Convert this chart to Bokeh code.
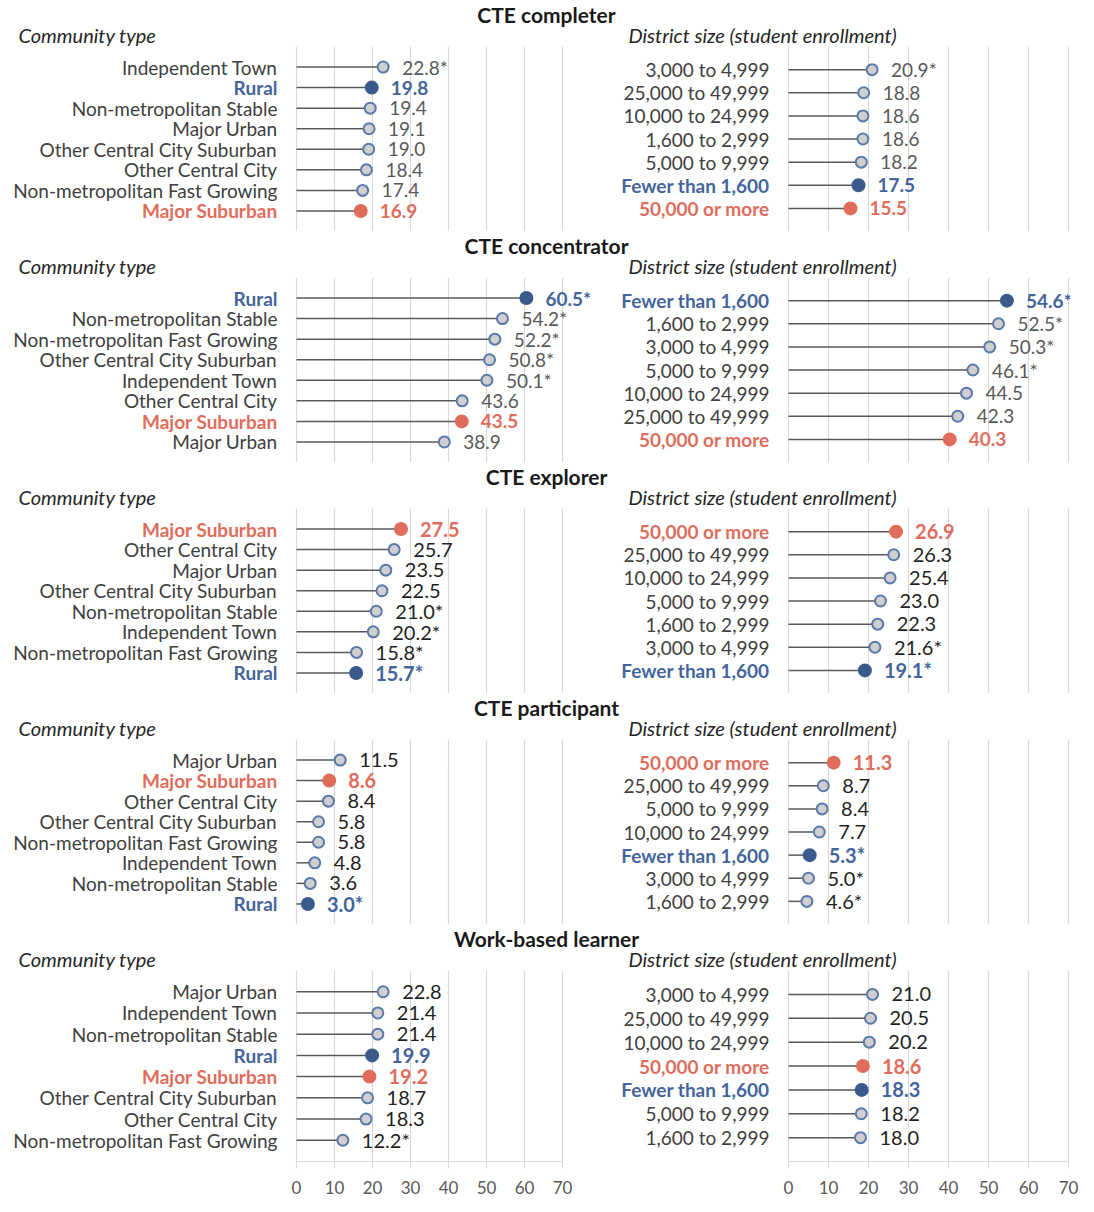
from bokeh.plotting import figure
from bokeh.models import ColumnDataSource, FactorRange, Range1d, Grid, FixedTicker, LinearAxis
from bokeh.layouts import column, row
from bokeh.embed import file_html
from bokeh.resources import INLINE
from bokeh.core.properties import value

# ---------------- data ----------------
panel_titles = ["CTE completer", "CTE concentrator", "CTE explorer", "CTE participant", "Work-based learner"]
left_subtitle = "Community type"
right_subtitle = "District size (student enrollment)"

completer_comm_cats = ["Independent Town", "Rural", "Non-metropolitan Stable", "Major Urban",
                       "Other Central City Suburban", "Other Central City", "Non-metropolitan Fast Growing", "Major Suburban"]
completer_comm_vals = [22.8, 19.8, 19.4, 19.1, 19.0, 18.4, 17.4, 16.9]
completer_comm_sig = [1, 0, 0, 0, 0, 0, 0, 0]
completer_size_cats = ["3,000 to 4,999", "25,000 to 49,999", "10,000 to 24,999", "1,600 to 2,999",
                       "5,000 to 9,999", "Fewer than 1,600", "50,000 or more"]
completer_size_vals = [20.9, 18.8, 18.6, 18.6, 18.2, 17.5, 15.5]
completer_size_sig = [1, 0, 0, 0, 0, 0, 0]

concentrator_comm_cats = ["Rural", "Non-metropolitan Stable", "Non-metropolitan Fast Growing", "Other Central City Suburban",
                          "Independent Town", "Other Central City", "Major Suburban", "Major Urban"]
concentrator_comm_vals = [60.5, 54.2, 52.2, 50.8, 50.1, 43.6, 43.5, 38.9]
concentrator_comm_sig = [1, 1, 1, 1, 1, 0, 0, 0]
concentrator_size_cats = ["Fewer than 1,600", "1,600 to 2,999", "3,000 to 4,999", "5,000 to 9,999",
                          "10,000 to 24,999", "25,000 to 49,999", "50,000 or more"]
concentrator_size_vals = [54.6, 52.5, 50.3, 46.1, 44.5, 42.3, 40.3]
concentrator_size_sig = [1, 1, 1, 1, 0, 0, 0]

explorer_comm_cats = ["Major Suburban", "Other Central City", "Major Urban", "Other Central City Suburban",
                      "Non-metropolitan Stable", "Independent Town", "Non-metropolitan Fast Growing", "Rural"]
explorer_comm_vals = [27.5, 25.7, 23.5, 22.5, 21.0, 20.2, 15.8, 15.7]
explorer_comm_sig = [0, 0, 0, 0, 1, 1, 1, 1]
explorer_size_cats = ["50,000 or more", "25,000 to 49,999", "10,000 to 24,999", "5,000 to 9,999",
                      "1,600 to 2,999", "3,000 to 4,999", "Fewer than 1,600"]
explorer_size_vals = [26.9, 26.3, 25.4, 23.0, 22.3, 21.6, 19.1]
explorer_size_sig = [0, 0, 0, 0, 0, 1, 1]

participant_comm_cats = ["Major Urban", "Major Suburban", "Other Central City", "Other Central City Suburban",
                         "Non-metropolitan Fast Growing", "Independent Town", "Non-metropolitan Stable", "Rural"]
participant_comm_vals = [11.5, 8.6, 8.4, 5.8, 5.8, 4.8, 3.6, 3.0]
participant_comm_sig = [0, 0, 0, 0, 0, 0, 0, 1]
participant_size_cats = ["50,000 or more", "25,000 to 49,999", "5,000 to 9,999", "10,000 to 24,999",
                         "Fewer than 1,600", "3,000 to 4,999", "1,600 to 2,999"]
participant_size_vals = [11.3, 8.7, 8.4, 7.7, 5.3, 5.0, 4.6]
participant_size_sig = [0, 0, 0, 0, 1, 1, 1]

wbl_comm_cats = ["Major Urban", "Independent Town", "Non-metropolitan Stable", "Rural", "Major Suburban",
                 "Other Central City Suburban", "Other Central City", "Non-metropolitan Fast Growing"]
wbl_comm_vals = [22.8, 21.4, 21.4, 19.9, 19.2, 18.7, 18.3, 12.2]
wbl_comm_sig = [0, 0, 0, 0, 0, 0, 0, 1]
wbl_size_cats = ["3,000 to 4,999", "25,000 to 49,999", "10,000 to 24,999", "50,000 or more",
                 "Fewer than 1,600", "5,000 to 9,999", "1,600 to 2,999"]
wbl_size_vals = [21.0, 20.5, 20.2, 18.6, 18.3, 18.2, 18.0]
wbl_size_sig = [0, 0, 0, 0, 0, 0, 0]

blue_groups = ["Rural", "Fewer than 1,600"]
red_groups = ["Major Suburban", "50,000 or more"]

x_ticks = [0, 10, 20, 30, 40, 50, 60, 70]

# ---------------- styles / layout ----------------
FONT = "Lato"
BLUE_TXT = "#44659b"
BLUE_DOT = "#3b5a8c"
RED = "#e06c5c"
CAT_GRAY = "#404040"
MARK_FILL = "#cfcfcf"
MARK_LINE = "#5a78aa"
STEM = "#595959"
GRID = "#d9d9d9"

W_LEFT, W_RIGHT = 620, 458
HEAD_H, FRAME_H, AXIS_H = 46, 185, 41
TITLE_Y, SUB_Y = 14, 34
TITLE_X, SUBL_X, SUBR_X = 546, 18, 628
L_ZERO, L_MAX = 296, 562
R_ZERO, R_MAX = 168, 448

VAL_COLOR = ["#595959", "#595959", "#1f1f1f", "#1f1f1f", "#1f1f1f"]
VAL_SIZE = ["19px", "19px", "20px", "20px", "20px"]


def x_range_for(width, zero_px, max_px):
    s = (max_px - zero_px) / 70.0
    return Range1d(-zero_px / s, 70 + (width - max_px) / s)


def lollipop(cats, vals, sig, width, zero_px, max_px, k, bottom):
    height = FRAME_H + (AXIS_H if bottom else 0)
    p = figure(width=width, height=height, x_range=x_range_for(width, zero_px, max_px),
               y_range=FactorRange(factors=list(reversed(cats)), range_padding=0.5,
                                   range_padding_units="absolute"),
               x_axis_type=None, y_axis_type=None, toolbar_location=None,
               output_backend="svg", min_border=0, outline_line_color=None,
               background_fill_color="white", border_fill_color="white")
    p.add_layout(Grid(dimension=0, ticker=FixedTicker(ticks=x_ticks),
                      grid_line_color=GRID, grid_line_width=1.2), "center")

    tcol, dfill, dline, dsize, fstyle = [], [], [], [], []
    for c in cats:
        if c in blue_groups:
            tcol.append(BLUE_TXT); dfill.append(BLUE_DOT); dline.append(BLUE_DOT); dsize.append(12); fstyle.append("bold")
        elif c in red_groups:
            tcol.append(RED); dfill.append(RED); dline.append(RED); dsize.append(12); fstyle.append("bold")
        else:
            tcol.append(None); dfill.append(MARK_FILL); dline.append(MARK_LINE); dsize.append(11); fstyle.append("normal")
    ccol = [t if t else CAT_GRAY for t in tcol]
    vcol = [t if t else VAL_COLOR[k] for t in tcol]
    labels = [f"{v:.1f}" + ("*" if s else "") for v, s in zip(vals, sig)]
    src = ColumnDataSource(dict(cat=cats, val=vals, lab=labels, ccol=ccol, vcol=vcol,
                                dfill=dfill, dline=dline, dsize=dsize, fstyle=fstyle))

    p.segment(x0=0, y0="cat", x1="val", y1="cat", source=src, line_color=STEM, line_width=1.5)
    p.scatter(x="val", y="cat", source=src, size="dsize", fill_color="dfill",
              line_color="dline", line_width=2)
    p.text(x=0, y="cat", text="cat", source=src, x_offset=-19, text_align="right",
           text_baseline="middle", text_color="ccol", text_font_style="fstyle",
           text_font=value(FONT), text_font_size="19px")
    p.text(x="val", y="cat", text="lab", source=src, x_offset=19, text_align="left",
           text_baseline="middle", text_color="vcol", text_font_style="fstyle",
           text_font=value(FONT), text_font_size=VAL_SIZE[k])

    if bottom:
        ax = LinearAxis(ticker=FixedTicker(ticks=x_ticks), bounds=(0, 70),
                        axis_line_color=GRID, axis_line_width=1.2,
                        major_tick_line_color=GRID, major_tick_line_width=1.2,
                        major_tick_in=0, major_tick_out=7, minor_tick_line_color=None,
                        major_label_standoff=12, major_label_text_font=FONT,
                        major_label_text_font_size="17px", major_label_text_color="#595959")
        p.add_layout(ax, "below")
    return p


def header(title):
    w = W_LEFT + W_RIGHT
    p = figure(width=w, height=HEAD_H, x_range=Range1d(0, w), y_range=Range1d(HEAD_H, 0),
               x_axis_type=None, y_axis_type=None, toolbar_location=None,
               output_backend="svg", min_border=0, outline_line_color=None)
    p.grid.visible = False
    p.text(x=[TITLE_X], y=[TITLE_Y], text=[title], text_align="center", text_baseline="middle",
           text_font=value(FONT), text_font_style="bold", text_font_size="21px", text_color="#1a1a1a")
    p.text(x=[SUBL_X, SUBR_X], y=[SUB_Y, SUB_Y], text=[left_subtitle, right_subtitle],
           text_align="left", text_baseline="middle", text_font=value(FONT),
           text_font_style="italic", text_font_size="20px", text_color="#262626")
    return p


panels = [
    (completer_comm_cats, completer_comm_vals, completer_comm_sig, completer_size_cats, completer_size_vals, completer_size_sig),
    (concentrator_comm_cats, concentrator_comm_vals, concentrator_comm_sig, concentrator_size_cats, concentrator_size_vals, concentrator_size_sig),
    (explorer_comm_cats, explorer_comm_vals, explorer_comm_sig, explorer_size_cats, explorer_size_vals, explorer_size_sig),
    (participant_comm_cats, participant_comm_vals, participant_comm_sig, participant_size_cats, participant_size_vals, participant_size_sig),
    (wbl_comm_cats, wbl_comm_vals, wbl_comm_sig, wbl_size_cats, wbl_size_vals, wbl_size_sig),
]

items = []
for k, (title, pan) in enumerate(zip(panel_titles, panels)):
    lc, lv, ls, rc, rv, rs = pan
    bottom = k == len(panels) - 1
    items.append(header(title))
    items.append(row(lollipop(lc, lv, ls, W_LEFT, L_ZERO, L_MAX, k, bottom),
                     lollipop(rc, rv, rs, W_RIGHT, R_ZERO, R_MAX, k, bottom)))

layout = column(*items)
open("out.html", "w").write(file_html(layout, INLINE))
